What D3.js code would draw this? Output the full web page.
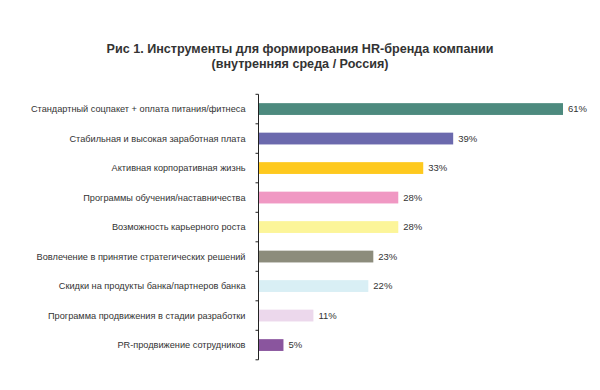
<!DOCTYPE html>
<html><head><meta charset="utf-8">
<script src="https://cdn.jsdelivr.net/npm/d3@7"></script>
<style>body{margin:0;background:#fff;} svg{display:block;}</style>
</head><body>
<svg id="chart" width="600" height="390"></svg>
<script>
const categories = [
  "Стандартный соцпакет + оплата питания/фитнеса",
  "Стабильная и высокая заработная плата",
  "Активная корпоративная жизнь",
  "Программы обучения/наставничества",
  "Возможность карьерного роста",
  "Вовлечение в принятие стратегических решений",
  "Скидки на продукты банка/партнеров банка",
  "Программа продвижения в стадии разработки",
  "PR-продвижение сотрудников"
];
const values = [61, 39, 33, 28, 28, 23, 22, 11, 5];
const colors = ["#4d8a7e", "#6b69ad", "#fec91e", "#f098c3", "#fcf599", "#8c8c7c", "#d9eff5", "#ecd8ec", "#8a559e"];
const titleLines = ["Рис 1. Инструменты для формирования HR-бренда компании", "(внутренняя среда / Россия)"];

const svg = d3.select("#chart");
const x = d3.scaleLinear().domain([0, 61]).range([258.5, 563]);
const y = d3.scaleBand().domain(categories).range([94.3, 359.8]).paddingInner(0.6).paddingOuter(0.3);

svg.append("g").selectAll("text").data(titleLines).join("text")
  .attr("x", 300).attr("y", (d, i) => 53 + i * 15)
  .attr("text-anchor", "middle")
  .attr("font-family", "Liberation Sans, Arial, sans-serif")
  .attr("font-weight", "bold").attr("font-size", 12.6).attr("fill", "#333")
  .text(d => d);

svg.append("g").selectAll("rect").data(values).join("rect")
  .attr("x", x(0)).attr("y", (d, i) => y(categories[i]))
  .attr("width", d => x(d) - x(0)).attr("height", y.bandwidth())
  .attr("fill", (d, i) => colors[i]);

svg.append("g").selectAll("text").data(values).join("text")
  .attr("x", d => x(d) + 5).attr("y", (d, i) => y(categories[i]) + y.bandwidth() / 2)
  .attr("dy", "0.35em")
  .attr("font-family", "Liberation Sans, Arial, sans-serif").attr("font-size", 9.5).attr("fill", "#333")
  .text(d => d + "%");

// axis with ticks at band boundaries
const axisG = svg.append("g");
axisG.append("line").attr("x1", x(0)).attr("x2", x(0)).attr("y1", y.range()[0]).attr("y2", y.range()[1]).attr("stroke", "#222");
const step = y.step();
const bounds = d3.range(categories.length + 1).map(i => y.range()[0] + i * step);
axisG.selectAll("line.tick").data(bounds).join("line").attr("class", "tick")
  .attr("x1", x(0) - 3).attr("x2", x(0)).attr("y1", d => d).attr("y2", d => d).attr("stroke", "#222");

svg.append("g").selectAll("text").data(categories).join("text")
  .attr("x", x(0) - 13).attr("y", d => y(d) + y.bandwidth() / 2)
  .attr("dy", "0.35em").attr("text-anchor", "end")
  .attr("font-family", "Liberation Sans, Arial, sans-serif").attr("font-size", 9.2).attr("fill", "#333")
  .text(d => d);
</script>
</body></html>
